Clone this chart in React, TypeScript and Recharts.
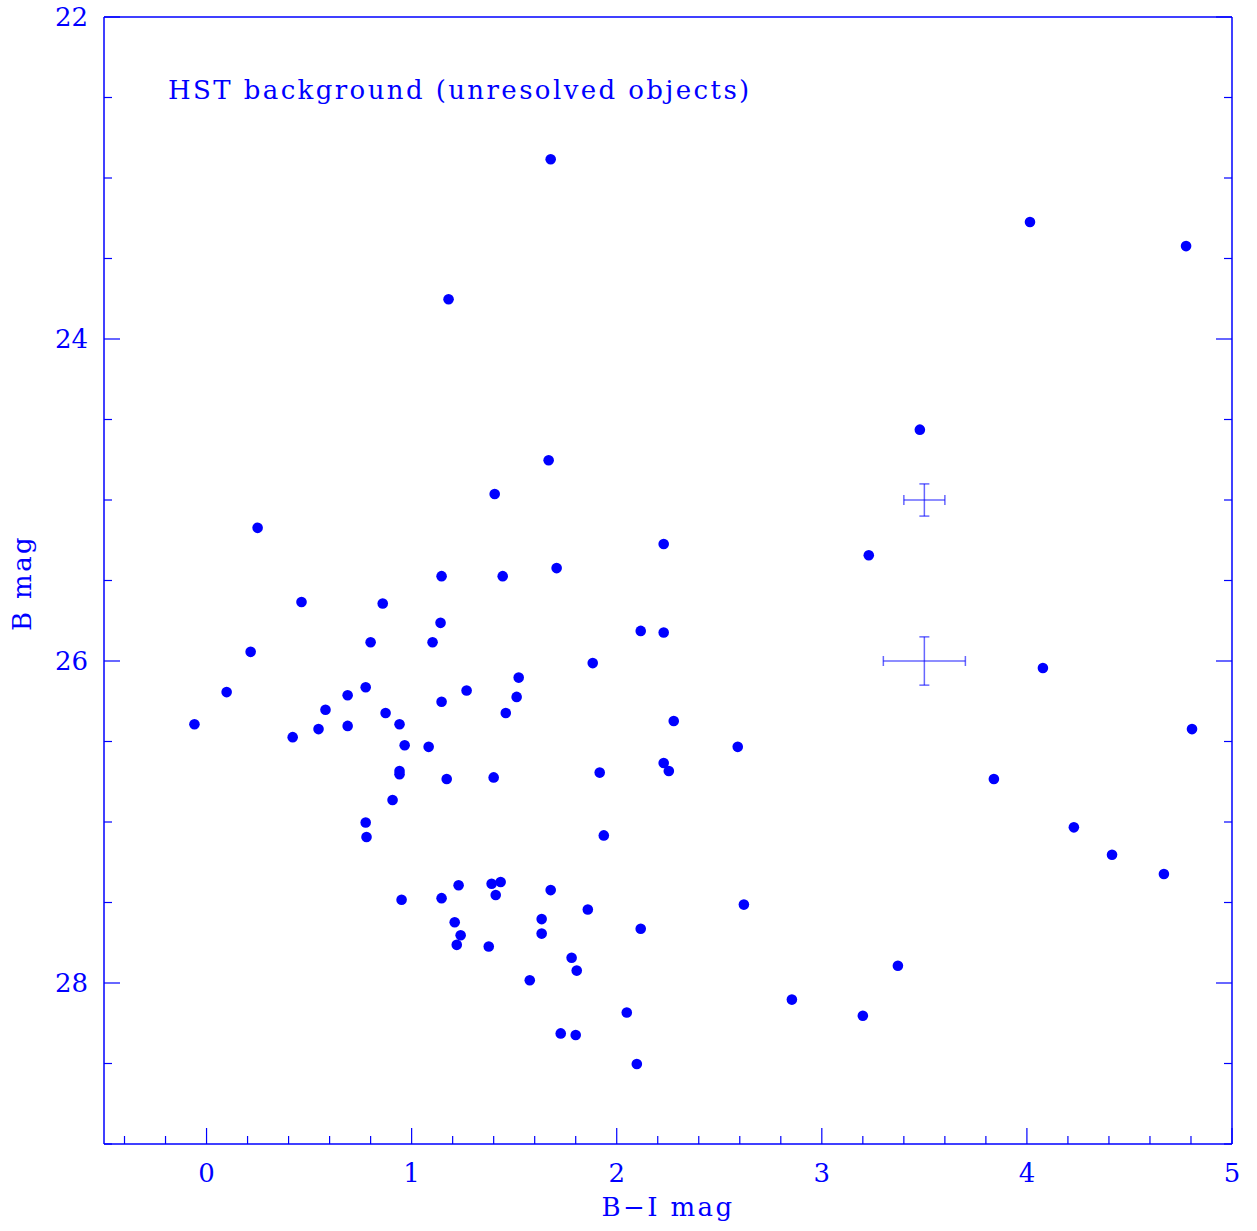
import React from 'react'
import { ScatterChart, Scatter, XAxis, YAxis, ErrorBar } from 'recharts'

const BLUE = '#0000ff'
const FONT = '"DejaVu Serif", "Liberation Serif", serif'

// B-I colour and B magnitude of the unresolved objects
const bi = [
  1.678, 4.015, 4.776, 1.18, 3.478, 1.668, 1.405, 0.249, 2.229, 3.229,
  1.707, 1.146, 1.444, 0.463, 0.859, 1.141, 2.117, 2.229, 0.8, 1.102,
  0.215, 1.883, 4.078, 1.522, 0.098, 0.776, 1.268, 0.688, 1.512, 1.146,
  0.58, 1.459, 0.873, 2.278, 0.941, -0.059, 0.688, 0.546, 4.805, 0.42,
  0.966, 1.083, 2.59, 2.229, 2.254, 0.941, 1.917, 0.941, 1.4, 1.171,
  3.839, 0.907, 0.776, 4.229, 1.937, 0.78, 4.415, 4.668, 1.39, 1.434,
  1.229, 1.678, 1.41, 1.146, 0.951, 2.62, 1.859, 1.634, 1.21, 2.117,
  1.634, 1.239, 1.22, 1.376, 1.78, 1.805, 3.371, 1.576, 2.854, 2.049,
  3.2, 1.727, 1.8, 2.098,
]
const bmag = [
  22.88, 23.27, 23.42, 23.75, 24.56, 24.75, 24.96, 25.17, 25.27, 25.34,
  25.42, 25.47, 25.47, 25.63, 25.64, 25.76, 25.81, 25.82, 25.88, 25.88,
  25.94, 26.01, 26.04, 26.1, 26.19, 26.16, 26.18, 26.21, 26.22, 26.25,
  26.3, 26.32, 26.32, 26.37, 26.39, 26.39, 26.4, 26.42, 26.42, 26.47,
  26.52, 26.53, 26.53, 26.63, 26.68, 26.68, 26.69, 26.7, 26.72, 26.73,
  26.73, 26.86, 27.0, 27.03, 27.08, 27.09, 27.2, 27.32, 27.38, 27.37,
  27.39, 27.42, 27.45, 27.47, 27.48, 27.51, 27.54, 27.6, 27.62, 27.66,
  27.69, 27.7, 27.76, 27.77, 27.84, 27.92, 27.89, 27.98, 28.1, 28.18,
  28.2, 28.31, 28.32, 28.5,
]

// typical error crosses
const errX = [3.5, 3.5]
const errY = [25, 26]
const errDx = [0.1, 0.2]
const errDy = [0.1, 0.15]

const xTicks = [
  -0.4, -0.2, 0, 0.2, 0.4, 0.6, 0.8, 1, 1.2, 1.4, 1.6, 1.8, 2, 2.2, 2.4, 2.6, 2.8,
  3, 3.2, 3.4, 3.6, 3.8, 4, 4.2, 4.4, 4.6, 4.8, 5,
]
const yTicks = [22, 22.5, 23, 23.5, 24, 24.5, 25, 25.5, 26, 26.5, 27, 27.5, 28, 28.5, 29]

const points = bi.map((x, i) => ({ x, y: bmag[i] }))
const errPoints = errX.map((x, i) => ({ x, y: errY[i], ex: errDx[i], ey: errDy[i] }))

const isInt = (v: number) => Math.abs(v - Math.round(v)) < 1e-6
const isMajorY = (v: number) => Math.abs(v / 2 - Math.round(v / 2)) < 1e-6

const labelStyle = { fill: BLUE, fontFamily: FONT, fontSize: 26 }

const BottomTick = ({ x, y, payload }: any) => {
  const v = payload.value
  const major = isInt(v)
  return (
    <g>
      <line x1={x} x2={x} y1={y} y2={y - (major ? 16 : 8)} stroke={BLUE} strokeWidth={1.2} />
      {major && (
        <text x={x} y={y + 38} textAnchor="middle" {...labelStyle}>{Math.round(v)}</text>
      )}
    </g>
  )
}

const TopTick = ({ x, y, payload }: any) => {
  const major = isInt(payload.value)
  return <line x1={x} x2={x} y1={y} y2={y + (major ? 16 : 8)} stroke={BLUE} strokeWidth={1.2} />
}

const LeftTick = ({ x, y, payload }: any) => {
  const v = payload.value
  const major = isMajorY(v)
  return (
    <g>
      <line x1={x} x2={x + (major ? 16 : 8)} y1={y} y2={y} stroke={BLUE} strokeWidth={1.2} />
      {major && (
        <text x={x - 16} y={y} dy="0.36em" textAnchor="end" {...labelStyle}>{v}</text>
      )}
    </g>
  )
}

const RightTick = ({ x, y, payload }: any) => {
  const major = isMajorY(payload.value)
  return <line x1={x} x2={x - (major ? 16 : 8)} y1={y} y2={y} stroke={BLUE} strokeWidth={1.2} />
}

const Dot = (p: any) => <circle cx={p.cx} cy={p.cy + 0.5} r={5.3} fill={BLUE} />

const textStyle = { color: BLUE, fontFamily: FONT, fontSize: 26, lineHeight: '34px', letterSpacing: '2.4px', whiteSpace: 'nowrap' as const }

export default function App() {
  const axisLine = { stroke: BLUE, strokeWidth: 1.5 }
  return (
    <div style={{ position: 'absolute', left: 0, top: 0, width: 1257, height: 1231, background: '#fff' }}>
      <ScatterChart width={1257} height={1231} margin={{ top: 7, right: 15, bottom: 27, left: 44 }}>
        <XAxis
          xAxisId="b" dataKey="x" type="number" domain={[-0.5, 5]} ticks={xTicks} interval={0}
          allowDataOverflow orientation="bottom" height={60} tickSize={0} tickMargin={0}
          axisLine={axisLine} tickLine={false} tick={<BottomTick />}
        />
        <XAxis
          xAxisId="t" type="number" domain={[-0.5, 5]} ticks={xTicks} interval={0}
          allowDataOverflow orientation="top" height={10} tickSize={0} tickMargin={0}
          axisLine={axisLine} tickLine={false} tick={<TopTick />}
        />
        <YAxis
          yAxisId="l" dataKey="y" type="number" domain={[22, 29]} ticks={yTicks} interval={0}
          reversed allowDataOverflow orientation="left" width={60} tickSize={0} tickMargin={0}
          axisLine={axisLine} tickLine={false} tick={<LeftTick />}
        />
        <YAxis
          yAxisId="r" type="number" domain={[22, 29]} ticks={yTicks} interval={0}
          reversed allowDataOverflow orientation="right" width={10} tickSize={0} tickMargin={0}
          axisLine={axisLine} tickLine={false} tick={<RightTick />}
        />
        <Scatter xAxisId="b" yAxisId="l" data={points} shape={Dot} isAnimationActive={false} />
        <Scatter xAxisId="b" yAxisId="l" data={errPoints} shape={() => <g />} isAnimationActive={false}>
          <ErrorBar dataKey="ex" direction="x" width={5} stroke={BLUE} strokeOpacity={0.6} strokeWidth={1.5} />
          <ErrorBar dataKey="ey" direction="y" width={5} stroke={BLUE} strokeOpacity={0.6} strokeWidth={1.5} />
        </Scatter>
      </ScatterChart>
      <div style={{ ...textStyle, position: 'absolute', left: 168, top: 73 }}>
        HST background (unresolved objects)
      </div>
      <div style={{ ...textStyle, position: 'absolute', left: 568, width: 200, top: 1190, textAlign: 'center' }}>
        B−I mag
      </div>
      <div style={{ position: 'absolute', left: 22, top: 583, width: 0, height: 0 }}>
        <div style={{ ...textStyle, position: 'absolute', left: -100, top: -17, width: 200, textAlign: 'center', transform: 'rotate(-90deg)' }}>
          B mag
        </div>
      </div>
    </div>
  )
}
